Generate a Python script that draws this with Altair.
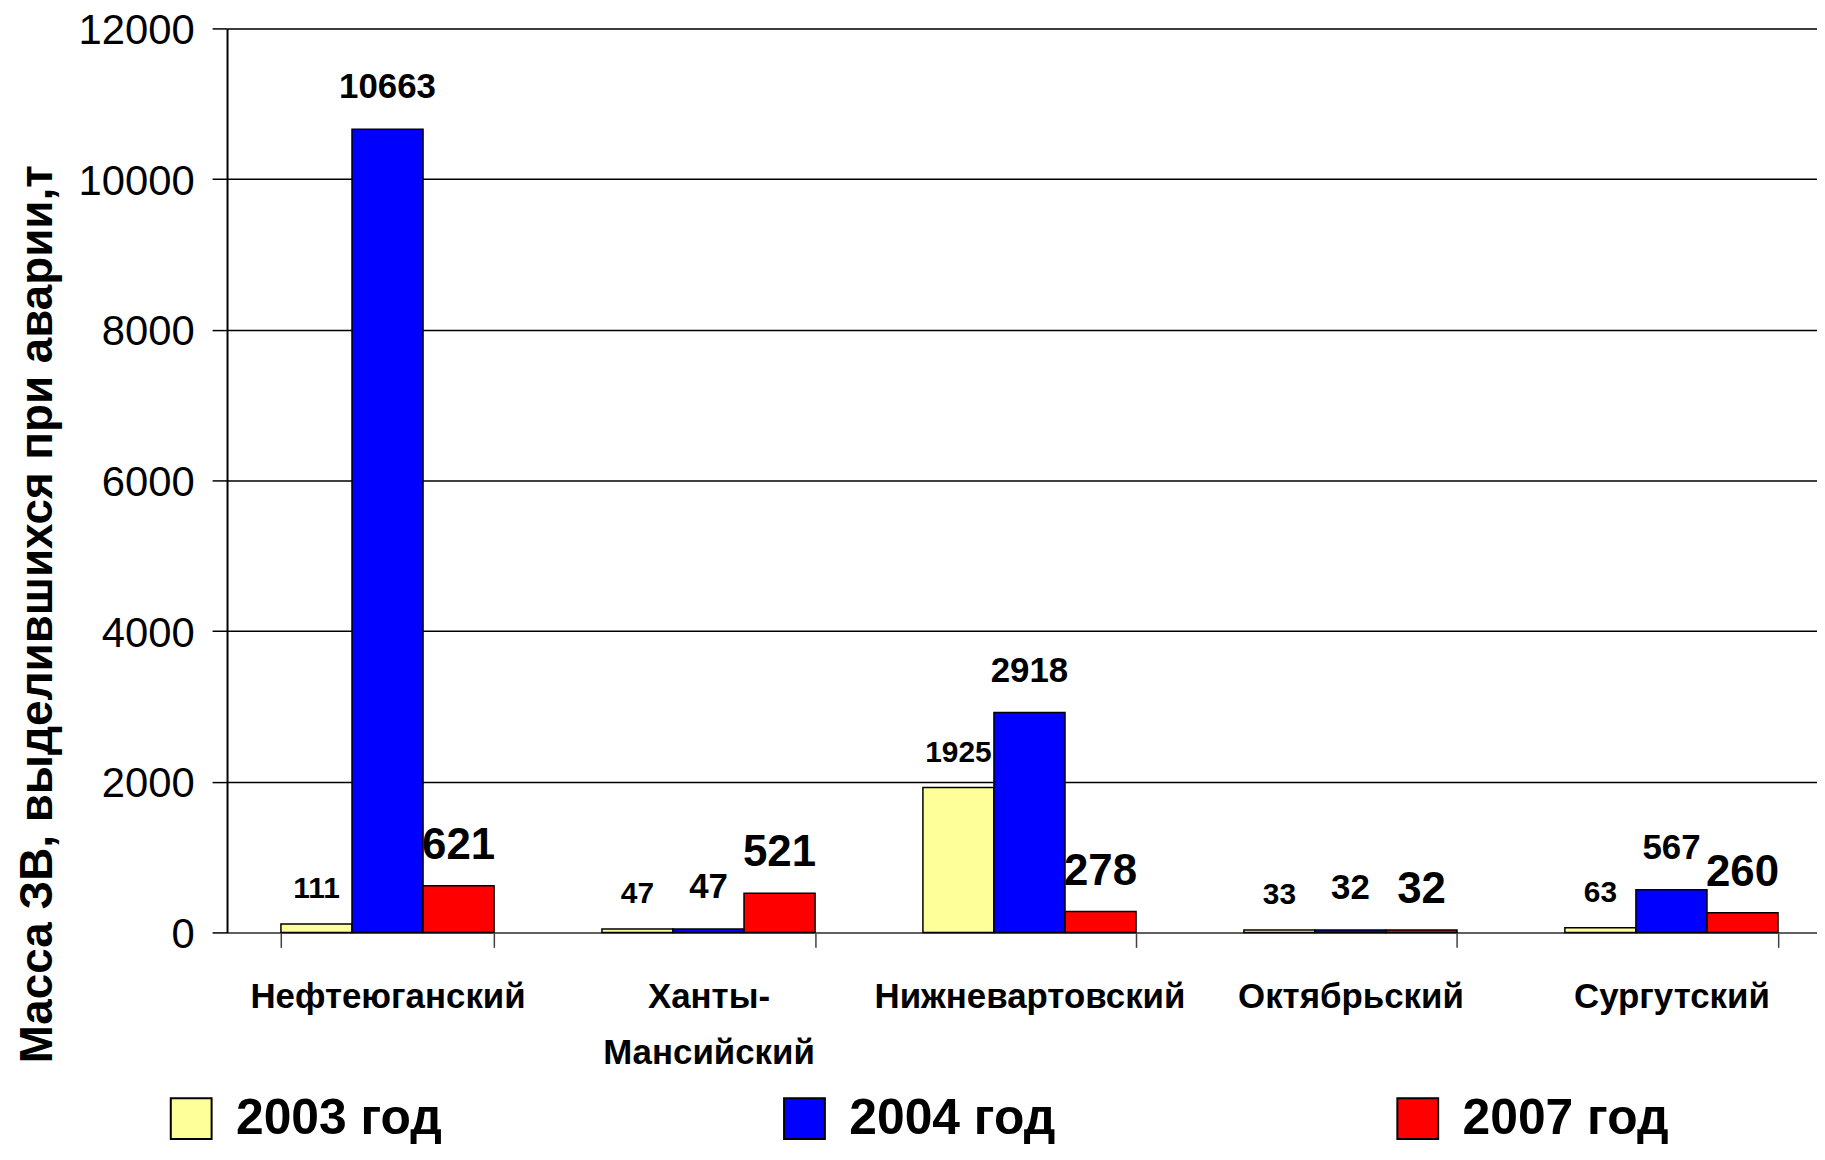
import altair as alt
import pandas as pd

districts = ["Нефтеюганский", "Ханты-Мансийский", "Нижневартовский", "Октябрьский", "Сургутский"]
years = ["2003 год", "2004 год", "2007 год"]
v2003 = [111, 47, 1925, 33, 63]
v2004 = [10663, 47, 2918, 32, 567]
v2007 = [621, 521, 278, 32, 260]
y_ticks = [0, 2000, 4000, 6000, 8000, 10000, 12000]
colors = ["#FFFF99", "#0000FF", "#FF0000"]
y_title = "Масса ЗВ, выделившихся при аварии,т"

rows = []
for i, d in enumerate(districts):
    for yr, vals in zip(years, [v2003, v2004, v2007]):
        rows.append({"district": d, "year": yr, "value": vals[i]})
df = pd.DataFrame(rows)

FONT = "Liberation Sans, Arial, sans-serif"

x_enc = alt.X(
    "district:N",
    sort=districts,
    scale=alt.Scale(paddingInner=0.336, paddingOuter=0.168, range=[0, 1612]),
    axis=alt.Axis(
        title=None,
        labelAngle=0,
        labelFont=FONT,
        labelFontSize=35,
        labelFontWeight="bold",
        labelColor="black",
        labelPadding=32,
        labelLineHeight=57,
        labelExpr="datum.label == 'Ханты-Мансийский' ? ['Ханты-', 'Мансийский'] : datum.label",
        tickBand="extent",
        tickSize=15,
        tickColor="#404040",
        tickWidth=1.5,
        domainColor="#606060",
        domainWidth=2,
        labelLimit=400,
    ),
)
y_enc = alt.Y(
    "value:Q",
    scale=alt.Scale(domain=[0, 12000], nice=False),
    axis=alt.Axis(
        title=y_title,
        values=y_ticks,
        format="d",
        labelFont=FONT,
        labelFontSize=42,
        labelColor="black",
        labelPadding=18,
        labelOffset=2,
        tickSize=15,
        tickColor="black",
        tickWidth=1.5,
        domainColor="black",
        domainWidth=2,
        gridColor="black",
        gridWidth=1.5,
        titleFont=FONT,
        titleFontSize=46,
        titleFontWeight="bold",
        titleColor="black",
        titleAngle=270,
        titleX=-190,
        titleY=588,
        titleAlign="center",
        titleBaseline="middle",
    ),
)
xo = alt.XOffset("year:N", sort=years)

base = alt.Chart(df)

bars = base.mark_bar(stroke="black", strokeWidth=1.5).encode(
    x=x_enc,
    y=y_enc,
    xOffset=xo,
    color=alt.Color(
        "year:N",
        sort=years,
        scale=alt.Scale(domain=years, range=colors),
        legend=alt.Legend(
            title=None,
            orient="none",
            legendX=-61,
            legendY=1070,
            direction="horizontal",
            labelFont=FONT,
            labelFontSize=50,
            labelFontWeight="bold",
            labelColor="black",
            labelLimit=400,
            labelOffset=20,
            symbolType="square",
            symbolSize=1681,
            symbolStrokeColor="black",
            symbolStrokeWidth=2,
            symbolOpacity=1,
            columnPadding=339,
        ),
    ),
)

label_styles = [
    (years[0], 30, -35),
    (years[1], 35, -42),
    (years[2], 44, -40),
]
layers = [bars]
for yr, fs, dy in label_styles:
    layers.append(
        base.transform_filter(alt.datum.year == yr)
        .mark_text(font=FONT, fontSize=fs, fontWeight="bold", color="black", baseline="middle", dy=dy)
        .encode(x=alt.X("district:N", sort=districts), y="value:Q", xOffset=xo, text="value:Q")
    )

chart = (
    alt.layer(*layers)
    .properties(
        width=1597,
        height=908,
        autosize=alt.AutoSizeParams(type="none"),
        padding={"left": 220, "top": 18, "right": 0, "bottom": 210},
    )
    .configure_view(fill="#C0C0C0", stroke="#808080", strokeWidth=2)
    .configure(background="white")
)

chart.save("out.html", embed_options={"renderer": "svg", "actions": False})
